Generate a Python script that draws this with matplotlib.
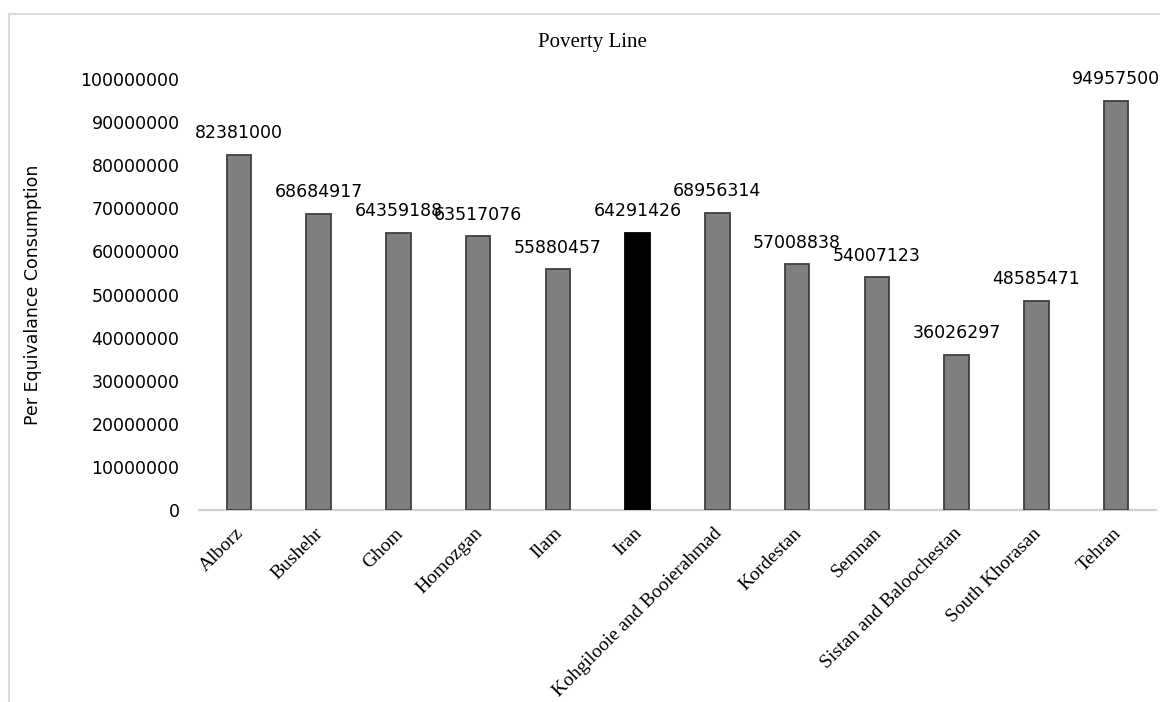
import matplotlib
matplotlib.use("Agg")
import matplotlib.pyplot as plt
from matplotlib.patches import Rectangle
import matplotlib.transforms as mtransforms

categories = ["Alborz", "Bushehr", "Ghom", "Homozgan", "Ilam", "Iran",
              "Kohgilooie and Booierahmad", "Kordestan", "Semnan",
              "Sistan and Baloochestan", "South Khorasan", "Tehran"]
values = [82381000, 68684917, 64359188, 63517076, 55880457, 64291426,
          68956314, 57008838, 54007123, 36026297, 48585471, 94957500]
highlight = "Iran"
yticks = [0, 10000000, 20000000, 30000000, 40000000, 50000000,
          60000000, 70000000, 80000000, 90000000, 100000000]
title = "Poverty Line"
ylabel = "Per Equivalance Consumption"

W, H = 1160, 702
fig = plt.figure(figsize=(W / 100, H / 100), dpi=100)
fig.patch.set_facecolor("white")

# chart border (outer frame, partially cut off)
fig.add_artist(Rectangle((9 / W, -0.1), 1.2, (H - 14) / H + 0.1,
                         transform=fig.transFigure, fill=False,
                         edgecolor="#d9d9d9", linewidth=1.5))

ax = fig.add_axes([199 / W, (H - 510) / H, 957 / W, (510 - 79) / H])

x = list(range(len(categories)))
colors = ["#000000" if c == highlight else "#7f7f7f" for c in categories]
edges = ["#000000" if c == highlight else "#3f3f3f" for c in categories]
bars = ax.bar(x, values, width=0.305, color=colors, edgecolor=edges,
              linewidth=1.3, zorder=3)

for xi, v in zip(x, values):
    ax.annotate(f"{v}", (xi, v), xytext=(0, 9), textcoords="offset points",
                ha="center", va="bottom", fontsize=12.5,
                family="DejaVu Sans", color="#000000")

ax.set_xlim(-0.5, len(categories) - 0.5)
ax.set_ylim(0, 100000000)
ax.set_yticks(yticks)
ax.set_yticklabels([str(t) for t in yticks], fontsize=12.5,
                   family="DejaVu Sans")
ax.tick_params(axis="y", length=0, pad=14)

ax.set_xticks(x)
ax.set_xticklabels(categories, rotation=45, ha="right", va="center",
                   rotation_mode="anchor", fontsize=14,
                   family="Liberation Serif")
ax.tick_params(axis="x", length=0, pad=15)
offset = mtransforms.ScaledTranslation(2 / 100, 0, fig.dpi_scale_trans)
for lbl in ax.get_xticklabels():
    lbl.set_transform(lbl.get_transform() + offset)

for s in ["top", "right", "left"]:
    ax.spines[s].set_visible(False)
ax.spines["bottom"].set_color("#d0d0d0")
ax.spines["bottom"].set_linewidth(1.6)
ax.spines["bottom"].set_zorder(2)

fig.text(592 / W, 1 - 42 / H, title, ha="center", va="center",
         fontsize=15, family="Liberation Serif")
fig.text(33 / W, 1 - 295 / H, ylabel, ha="center", va="center",
         rotation=90, fontsize=12.5, family="DejaVu Sans")

fig.savefig("out.png", dpi=100)
